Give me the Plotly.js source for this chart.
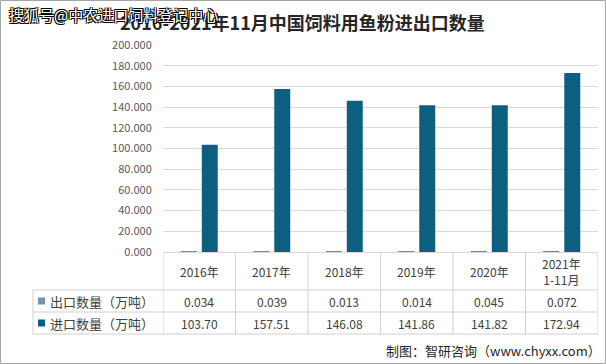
<!DOCTYPE html>
<html>
<head>
<meta charset="utf-8">
<script src="https://cdn.plot.ly/plotly-3.0.1.min.js"></script>
<style>html,body{margin:0;padding:0;background:#fff;}#chart{width:606px;height:364px;}</style>
</head>
<body>
<div id="chart"></div>
<script>
const categories = ["2016年", "2017年", "2018年", "2019年", "2020年", "2021年<br>1-11月"];
const exportValues = [0.034, 0.039, 0.013, 0.014, 0.045, 0.072];
const importValues = [103.70, 157.51, 146.08, 141.86, 141.82, 172.94];
const exportLabels = ["0.034", "0.039", "0.013", "0.014", "0.045", "0.072"];
const importLabels = ["103.70", "157.51", "146.08", "141.86", "141.82", "172.94"];
const seriesNames = ["出口数量（万吨）", "进口数量（万吨）"];
const colors = ["#7394ad", "#0d5f80"];

const W = 606, H = 364, L = 163, R = 8, T = 45, B = 112;
const pw = W - L - R, ph = H - T - B;
const px = v => (v - L) / pw;
const py = v => (H - B - v) / ph;
const font = "Noto Sans CJK SC, Lato, sans-serif";

const traces = [
  {type: "bar", name: seriesNames[0], x: categories.map((c, i) => i), y: exportValues, marker: {color: colors[0], line: {color: "#4d6475", width: 1}}, hoverinfo: "none"},
  {type: "bar", name: seriesNames[1], x: categories.map((c, i) => i), y: importValues, marker: {color: colors[1]}, hoverinfo: "none"}
];

const lineColor = "#d0d0d0";
const shapes = [];
shapes.push({type: "rect", xref: "paper", yref: "paper", x0: px(0.5), x1: px(W - 0.5), y0: py(0.5), y1: py(H - 0.5), line: {color: "#a6a6a6", width: 1}});
[290, 312, 334].forEach(y => shapes.push({type: "line", xref: "paper", yref: "paper", x0: px(33), x1: px(598), y0: py(y), y1: py(y), line: {color: lineColor, width: 1}}));
for (let i = 0; i <= categories.length; i++) {
  shapes.push({type: "line", xref: "x", yref: "paper", x0: i - 0.5, x1: i - 0.5, y0: py(252), y1: py(334), line: {color: lineColor, width: 1}});
}
shapes.push({type: "line", xref: "paper", yref: "paper", x0: px(33), x1: px(33), y0: py(290), y1: py(334), line: {color: lineColor, width: 1}});
[301, 323].forEach((y, k) => shapes.push({type: "rect", xref: "paper", yref: "paper", x0: px(38), x1: px(45), y0: py(y - 3.5), y1: py(y + 3.5), fillcolor: colors[k], line: {width: 0}}));

const annotations = [];
const cell = {size: 12, color: "#404040", family: font};
categories.forEach((c, i) => {
  annotations.push({xref: "x", yref: "paper", x: i, y: py(271), text: c, showarrow: false, font: cell, yanchor: "middle"});
  annotations.push({xref: "x", yref: "paper", x: i, y: py(301), text: exportLabels[i], showarrow: false, font: cell, yanchor: "middle"});
  annotations.push({xref: "x", yref: "paper", x: i, y: py(323), text: importLabels[i], showarrow: false, font: cell, yanchor: "middle"});
});
seriesNames.forEach((n, k) => annotations.push({xref: "paper", yref: "paper", x: px(48), y: py(k ? 323 : 301), xanchor: "left", yanchor: "middle", text: n, showarrow: false, font: {size: 13, color: "#404040", family: font}}));
annotations.push({xref: "paper", yref: "paper", x: px(302), y: py(22), xanchor: "center", yanchor: "middle", text: "<b>2016-2021年11月中国饲料用鱼粉进出口数量</b>", showarrow: false, font: {size: 18, color: "#262626", family: font}});
annotations.push({xref: "paper", yref: "paper", x: px(7), y: py(14), xanchor: "left", yanchor: "middle", text: "搜狐号@中农进口饲料登记中心", showarrow: false, font: {size: 15, color: "#ffffff", family: font, shadow: "1px 1px 0 #000, -1px -1px 0 #000, 1px -1px 0 #000, -1px 1px 0 #000"}});
annotations.push({xref: "paper", yref: "paper", x: px(603), y: py(350), xanchor: "right", yanchor: "middle", text: "制图：智研咨询（www.chyxx.com）", showarrow: false, font: {size: 13, color: "#262626", family: font}});

const layout = {
  width: W, height: H,
  margin: {l: L, r: R, t: T, b: B, pad: 0},
  paper_bgcolor: "#ffffff", plot_bgcolor: "#ffffff",
  showlegend: false,
  barmode: "group", bargap: 0.42, bargroupgap: 0.24,
  xaxis: {range: [-0.5, 5.5], showticklabels: false, showgrid: false, zeroline: false, showline: false, ticks: "", fixedrange: true},
  yaxis: {range: [0, 200], dtick: 20, tickformat: ".3f", showgrid: true, gridcolor: "#d9d9d9", gridwidth: 1, zeroline: true, zerolinecolor: "#d9d9d9", showline: false,
          ticks: "outside", ticklen: 8, tickcolor: "rgba(0,0,0,0)", tickfont: {size: 11, color: "#595959", family: font}, fixedrange: true},
  shapes: shapes,
  annotations: annotations
};

Plotly.newPlot("chart", traces, layout, {displayModeBar: false, staticPlot: true});
</script>
</body>
</html>
